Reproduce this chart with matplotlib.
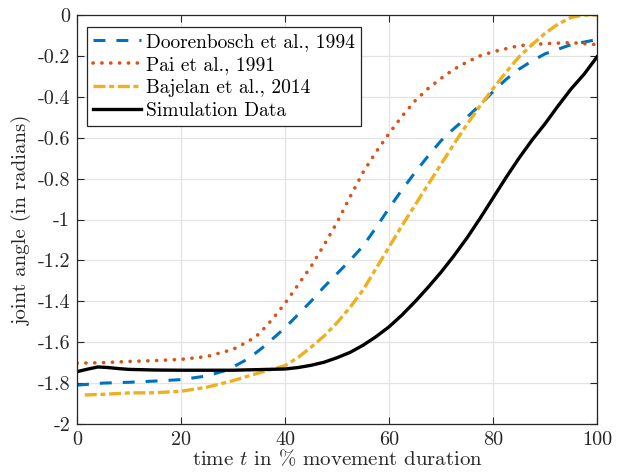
import matplotlib
matplotlib.use("Agg")
import matplotlib.pyplot as plt

plt.rcParams['font.family'] = ['cmr10', 'DejaVu Serif']
plt.rcParams['mathtext.fontset'] = 'cm'
plt.rcParams['axes.unicode_minus'] = False
plt.rcParams['axes.formatter.use_mathtext'] = False

# Doorenbosch et al., 1994
t_door = [0, 5, 10, 15, 20, 25, 29, 33, 36, 40, 42.5, 45, 47.5, 50, 52.5, 55, 57.5, 60, 62.5, 65,
          67.5, 70, 72.5, 75, 77.5, 80, 82.5, 85, 87.5, 90, 95, 100]
v_door = [-1.81, -1.80, -1.796, -1.79, -1.783, -1.765, -1.735, -1.68, -1.62, -1.53, -1.465,
          -1.40, -1.33, -1.265, -1.20, -1.13, -1.04, -0.945, -0.855, -0.77, -0.69, -0.615,
          -0.555, -0.50, -0.44, -0.375, -0.315, -0.265, -0.225, -0.19, -0.145, -0.12]

# Pai et al., 1991
t_pai = [0, 5, 10, 15, 20, 25, 30, 33, 35, 37.5, 40, 42.5, 45, 47.5, 50, 52.5, 55, 57.5, 60,
         62.5, 65, 67.5, 70, 72.5, 75, 77.5, 80, 85, 90, 95, 100]
v_pai = [-1.703, -1.70, -1.694, -1.69, -1.684, -1.67, -1.635, -1.595, -1.56, -1.49, -1.41,
         -1.32, -1.23, -1.125, -1.015, -0.89, -0.77, -0.67, -0.58, -0.495, -0.42, -0.36,
         -0.31, -0.265, -0.23, -0.2, -0.18, -0.15, -0.14, -0.135, -0.145]

# Bajelan et al., 2014
t_baj = [1.5, 5, 10, 15, 20, 25, 30, 35, 40, 42.5, 45, 47.5, 50, 52.5, 55, 57.5, 60, 62.5, 65,
         67.5, 70, 72.5, 75, 77.5, 80, 82.5, 85, 87.5, 90, 92.5, 95, 97.5, 100]
v_baj = [-1.858, -1.855, -1.848, -1.847, -1.84, -1.82, -1.788, -1.75, -1.715, -1.675, -1.625,
         -1.57, -1.505, -1.43, -1.345, -1.24, -1.135, -1.03, -0.93, -0.83, -0.73, -0.63,
         -0.535, -0.445, -0.36, -0.28, -0.205, -0.145, -0.09, -0.045, -0.012, 0.0, 0.0]

# Simulation Data
t_sim = [0, 2, 4, 6, 8, 10, 15, 20, 30, 40, 42.5, 45, 47.5, 50, 52.5, 55, 57.5, 60, 62.5, 65,
         67.5, 70, 72.5, 75, 77.5, 80, 82.5, 85, 87.5, 90, 92.5, 95, 97.5, 100]
v_sim = [-1.744, -1.732, -1.721, -1.724, -1.729, -1.733, -1.736, -1.737, -1.737, -1.731,
         -1.724, -1.713, -1.698, -1.676, -1.65, -1.615, -1.573, -1.525, -1.467, -1.402,
         -1.332, -1.258, -1.177, -1.09, -0.995, -0.895, -0.795, -0.70, -0.612, -0.532, -0.445,
         -0.362, -0.29, -0.205]

xticks = [0, 20, 40, 60, 80, 100]
yticks = [-2, -1.8, -1.6, -1.4, -1.2, -1, -0.8, -0.6, -0.4, -0.2, 0]
ytick_labels = ['-2', '-1.8', '-1.6', '-1.4', '-1.2', '-1', '-0.8', '-0.6', '-0.4', '-0.2', '0']

fig = plt.figure(figsize=(6.17, 4.74), dpi=100)
ax = fig.add_axes([77/617, 1 - 424/474, 520/617, 409/474])

ax.plot(t_door, v_door, color='#0072BD', lw=2.2, linestyle=(0, (3.9, 3.6)),
        label='Doorenbosch et al., 1994')
ax.plot(t_pai, v_pai, color='#D95319', lw=2.6, linestyle=(0, (0.05, 2.4)),
        dash_capstyle='round', label='Pai et al., 1991')
ax.plot(t_baj, v_baj, color='#EDB120', lw=2.4, linestyle=(0, (3.6, 1.1, 1.5, 1.1)),
        label='Bajelan et al., 2014')
ax.plot(t_sim, v_sim, color='black', lw=2.4, label='Simulation Data')

ax.set_xlim(0, 100)
ax.set_ylim(-2, 0)
ax.set_xticks(xticks)
ax.set_xticklabels([str(x) for x in xticks])
ax.set_yticks(yticks)
ax.set_yticklabels(ytick_labels)
ax.grid(True, color='#e3e3e3', lw=0.9)
ax.set_axisbelow(True)
ax.tick_params(direction='in', top=True, right=True, labelsize=14.5, length=5,
               width=0.8, colors='#262626', labelcolor='#262626', pad=5)
for s in ax.spines.values():
    s.set_color('#262626')
    s.set_linewidth(0.9)

ax.set_xlabel(r'time $t$ in % movement duration', fontsize=15, color='#262626', labelpad=0)
ax.set_ylabel('joint angle (in radians)', fontsize=15, color='#262626', labelpad=4)

leg = ax.legend(loc='upper left', bbox_to_anchor=(0.019, 0.971), fontsize=14,
                handlelength=2.5, handletextpad=0.25, borderpad=0.3, labelspacing=0.27,
                fancybox=False, framealpha=1, edgecolor='#262626', borderaxespad=0)
leg.get_frame().set_linewidth(0.9)

fig.savefig('out.png', dpi=100)
